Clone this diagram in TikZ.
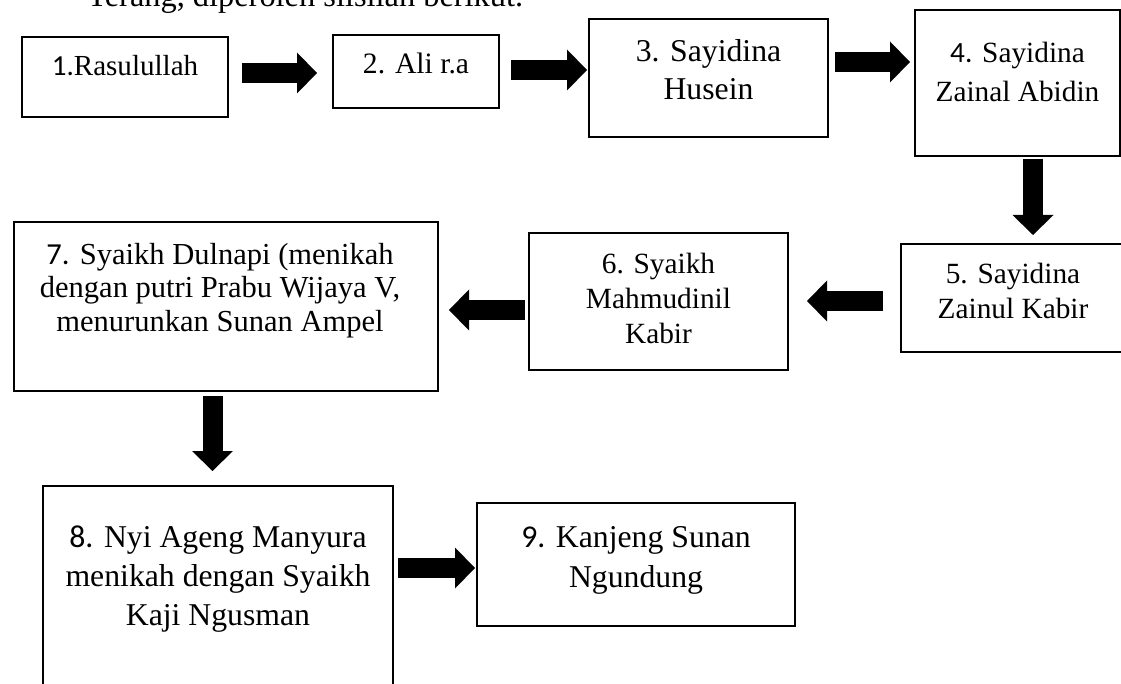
\documentclass[tikz,border=0pt]{standalone}
\usepackage{fontspec}
\setmainfont{Liberation Serif}
\newfontfamily\calfont{Carlito}
\usetikzlibrary{arrows.meta}

\tikzset{
  box/.style={draw, line width=1.5pt, inner sep=0pt, outer sep=0pt},
  lbl/.style 2 args={inner sep=0pt, align=center, anchor=base, font=\fontsize{#1}{#2}\selectfont},
  fatarrow/.style={line width=15pt, -{Triangle[width=30.75pt,length=15pt,line width=0pt]}},
}

\begin{document}
\begin{tikzpicture}[x=0.75pt,y=0.75pt,yscale=-1,xscale=1]
\useasboundingbox (0,0) rectangle (1121,684);

% Text Node
\node[lbl={24.3}{29}, anchor=base west] (intro) at (87,7) {Terang, diperoleh silsilah berikut.};

%Shape: Rectangle
\node[box, minimum width=154.5pt, minimum height=60pt] (b1) at (125,77) {};
\node[box, minimum width=124.5pt, minimum height=54.75pt] (b2) at (416,71.5) {};
\node[box, minimum width=179.25pt, minimum height=88.5pt] (b3) at (708.5,78) {};
\node[box, minimum width=153.75pt, minimum height=109.5pt] (b4) at (1017.5,83) {};
\node[box, minimum width=168.75pt, minimum height=81pt] (b5) at (1013.5,298) {};
\node[box, minimum width=194.25pt, minimum height=102.75pt] (b6) at (658.5,301.5) {};
\node[box, minimum width=318pt, minimum height=126.75pt] (b7) at (226,306.5) {};
\node[box, minimum width=262.5pt, minimum height=175.5pt] (b8) at (218,603) {};
\node[box, minimum width=238.5pt, minimum height=92.25pt] (b9) at (636,564.5) {};

% Text Node (anchored at the baseline of the last line)
\node[lbl={21.8}{26}] (t1) at (125,76) {{\calfont 1.}Rasulullah};
\node[lbl={22.2}{26}] (t2) at (416,74) {2. Ali r.a};
\node[lbl={23.8}{28.5}] (t3) at (708.5,100) {3. Sayidina\\Husein};
\node[lbl={22}{29.25}] (t4) at (1017.5,102) {{\calfont 4.} Sayidina\\Zainal Abidin};
\node[lbl={22}{26.25}] (t5) at (1013,319) {5. Sayidina\\Zainul Kabir};
\node[lbl={22}{26.6}] (t6) at (658.5,344) {6. Syaikh\\Mahmudinil\\Kabir};
\node[lbl={22.9}{25.1}] (t7) at (220,331) {{\calfont 7.} Syaikh Dulnapi (menikah\\dengan putri Prabu Wijaya V,\\menurunkan Sunan Ampel};
\node[lbl={23.8}{29.25}] (t8) at (218,625) {{\calfont 8.} Nyi Ageng Manyura\\menikah dengan Syaikh\\Kaji Ngusman};
\node[lbl={23.8}{30}] (t9) at (636,587) {{\calfont 9.} Kanjeng Sunan\\Ngundung};

%Right Arrow
\draw[fatarrow, shorten <=10.5pt, shorten >=12pt] (b1.east |- 0,73) -- (b2.west |- 0,73);
\draw[fatarrow, shorten <=9pt, shorten >=1.5pt] (b2.east |- 0,70) -- (b3.west |- 0,70);
\draw[fatarrow, shorten <=5.25pt, shorten >=3.75pt] (b3.east |- 0,62) -- (b4.west |- 0,62);
%Down Arrow
\draw[fatarrow, shorten <=2.25pt, shorten >=6.75pt] (1033,0 |- b4.south) -- (1033,0 |- b5.north);
%Left Arrow
\draw[fatarrow, shorten <=13.5pt, shorten >=14.25pt] (b5.west |- 0,301) -- (b6.east |- 0,301);
\draw[fatarrow, shorten <=3pt, shorten >=8.25pt] (b6.west |- 0,310) -- (b7.east |- 0,310);
%Down Arrow
\draw[fatarrow, shorten <=3.75pt, shorten >=11.25pt] (212.5,0 |- b7.south) -- (212.5,0 |- b8.north);
%Right Arrow
\draw[fatarrow, shorten <=3.75pt, shorten >=1.5pt] (b8.east |- 0,568) -- (b9.west |- 0,568);

\end{tikzpicture}
\end{document}
